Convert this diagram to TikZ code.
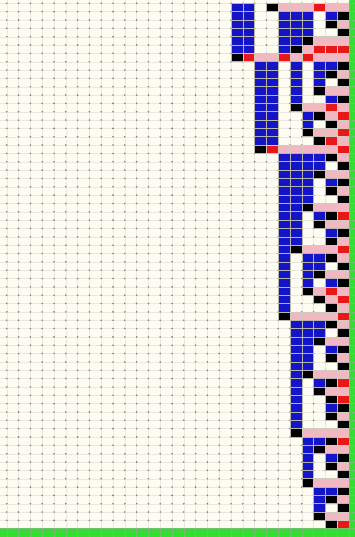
\documentclass[tikz,border=0pt]{standalone}
\usepackage{tikz}
\definecolor{cellbg}{HTML}{FFFDF2}
\definecolor{cellblue}{HTML}{1414C8}
\definecolor{cellpink}{HTML}{F2B8C2}
\definecolor{cellred}{HTML}{E81818}
\definecolor{cellgreen}{HTML}{33DD33}
\definecolor{gridgrey}{HTML}{B8B4A8}

\begin{document}
\begin{tikzpicture}[x=1pt,y=1pt,
  cellB/.style={fill=cellblue, draw=gridgrey, line width=0.6pt},
  cellK/.style={fill=black, draw=gridgrey, line width=0.6pt},
  cellP/.style={fill=cellpink, draw=gridgrey!70, line width=0.6pt},
  cellR/.style={fill=cellred, draw=gridgrey!70, line width=0.6pt},
  cellW/.style={},
  cellG/.style={fill=cellgreen, draw=green!55!black!55, line width=0.6pt},
  gridln/.style={draw=gridgrey!30, line width=0.3pt},
  griddot/.style={fill=gridgrey!70!black}
]

\useasboundingbox (0,0) rectangle (355,537);
\clip (0,0) rectangle (355,537);
\fill[cellbg] (0,0) rectangle (355,537);

% grid: column j has left edge 231+11.8*(j-20), row k has top edge 533.7-8.34*k
\foreach \j in {0,...,30}
  \draw[gridln] ({231+11.8*(\j-20)},0) -- ++(0,537);
\foreach \k in {0,...,64}
  \draw[gridln] (0,{533.7-8.34*\k}) -- ++(355,0);
\foreach \j in {0,...,30}
  \foreach \k in {0,...,64}
    \fill[griddot] ({231+11.8*(\j-20)},{533.7-8.34*\k}) circle (0.9);

% states, columns 20 to 29
\foreach \k/\row in {
  0/{B,B,W,K,P,P,P,R,P,P},
  1/{B,B,W,W,B,B,B,W,B,K},
  2/{B,B,W,W,B,B,B,W,K,P},
  3/{B,B,W,W,B,B,B,W,W,K},
  4/{B,B,W,W,B,B,K,P,P,P},
  5/{B,B,W,W,B,K,P,R,R,R},
  6/{K,R,P,P,R,P,R,P,P,P},
  7/{W,W,B,B,W,B,W,B,B,K},
  8/{W,W,B,B,W,B,W,B,K,P},
  9/{W,W,B,B,W,B,W,B,W,K},
  10/{W,W,B,B,W,B,W,K,P,P},
  11/{W,W,B,B,W,B,W,W,B,K},
  12/{W,W,B,B,W,K,P,P,R,P},
  13/{W,W,B,B,W,W,B,K,P,R},
  14/{W,W,B,B,W,W,B,W,K,P},
  15/{W,W,B,B,W,W,K,P,P,R},
  16/{W,W,B,B,W,W,W,K,R,P},
  17/{W,W,K,R,P,P,P,P,P,R},
  18/{W,W,W,W,B,B,B,B,K,P},
  19/{W,W,W,W,B,B,B,B,W,K},
  20/{W,W,W,W,B,B,B,K,P,P},
  21/{W,W,W,W,B,B,B,W,B,K},
  22/{W,W,W,W,B,B,B,W,K,P},
  23/{W,W,W,W,B,B,B,W,W,K},
  24/{W,W,W,W,B,B,K,P,P,P},
  25/{W,W,W,W,B,B,W,B,K,R},
  26/{W,W,W,W,B,B,W,K,P,P},
  27/{W,W,W,W,B,B,W,W,B,K},
  28/{W,W,W,W,B,B,W,W,K,P},
  29/{W,W,W,W,B,K,P,P,P,R},
  30/{W,W,W,W,B,W,B,B,K,P},
  31/{W,W,W,W,B,W,B,B,W,K},
  32/{W,W,W,W,B,W,B,K,P,P},
  33/{W,W,W,W,B,W,B,W,B,K},
  34/{W,W,W,W,B,W,K,P,R,P},
  35/{W,W,W,W,B,W,W,K,P,R},
  36/{W,W,W,W,B,W,W,W,K,P},
  37/{W,W,W,W,K,P,P,P,P,R},
  38/{W,W,W,W,W,B,B,B,K,P},
  39/{W,W,W,W,W,B,B,B,W,K},
  40/{W,W,W,W,W,B,B,K,P,P},
  41/{W,W,W,W,W,B,B,W,B,K},
  42/{W,W,W,W,W,B,B,W,K,P},
  43/{W,W,W,W,W,B,B,W,W,K},
  44/{W,W,W,W,W,B,K,P,P,P},
  45/{W,W,W,W,W,B,W,B,K,R},
  46/{W,W,W,W,W,B,W,K,P,P},
  47/{W,W,W,W,W,B,W,W,K,R},
  48/{W,W,W,W,W,B,W,W,B,K},
  49/{W,W,W,W,W,B,W,W,K,P},
  50/{W,W,W,W,W,B,W,W,W,K},
  51/{W,W,W,W,W,K,P,P,P,P},
  52/{W,W,W,W,W,W,B,B,K,R},
  53/{W,W,W,W,W,W,B,K,P,P},
  54/{W,W,W,W,W,W,B,W,B,K},
  55/{W,W,W,W,W,W,B,W,K,P},
  56/{W,W,W,W,W,W,B,W,W,K},
  57/{W,W,W,W,W,W,K,P,P,P},
  58/{W,W,W,W,W,W,W,B,B,K},
  59/{W,W,W,W,W,W,W,B,K,P},
  60/{W,W,W,W,W,W,W,B,W,K},
  61/{W,W,W,W,W,W,W,K,P,P},
  62/{W,W,W,W,W,W,W,W,K,R}}
  \foreach \c [count=\i from 20] in \row
    \path[cell\c] ({231+11.8*(\i-20)},{533.7-8.34*(\k+1)}) rectangle ++(11.8,8.34);

% green border: bottom row and right column
\foreach \j in {-1,...,30}
  \path[cellG] ({231+11.8*(\j-20)},{533.7-8.34*64}) rectangle ++(11.8,8.34);
\foreach \k in {-1,...,62}
  \path[cellG] (349,{533.7-8.34*(\k+1)}) rectangle ++(11.8,8.34);

\end{tikzpicture}
\end{document}
